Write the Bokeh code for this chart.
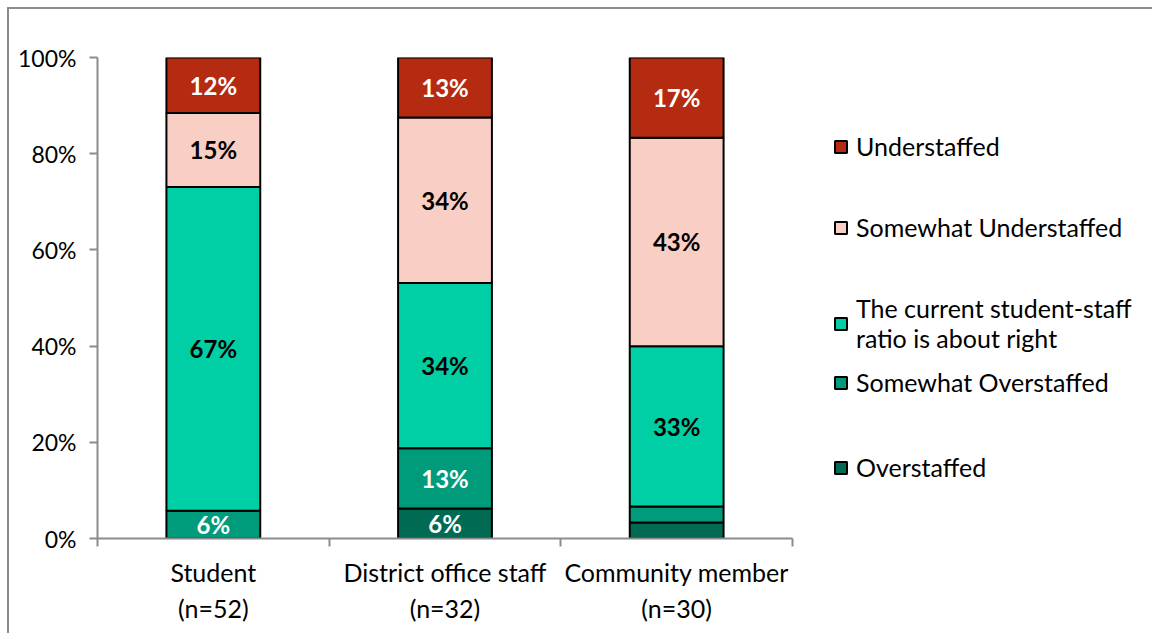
from bokeh.plotting import figure
from bokeh.models import ColumnDataSource, FixedTicker, Legend, LegendItem, Range1d, CustomJSTickFormatter
from bokeh.core.properties import value
from bokeh.embed import file_html
from bokeh.resources import INLINE

# ---- data ----
groups = ["Student\n(n=52)", "District office staff\n(n=32)", "Community member\n(n=30)"]
series = ["Overstaffed", "Somewhat Overstaffed",
          "The current student-staff\nratio is about right",
          "Somewhat Understaffed", "Understaffed"]
overstaffed = [0.0, 6.25, 3.33]
somewhat_over = [5.77, 12.5, 3.33]
about_right = [67.31, 34.38, 33.33]
somewhat_under = [15.38, 34.38, 43.33]
understaffed = [11.54, 12.5, 16.67]
y_ticks = [0, 20, 40, 60, 80, 100]

colors = ["#006B52", "#009B7B", "#00CFA6", "#F9CEC4", "#B52B12"]
label_colors = ["#FFFFFF", "#FFFFFF", "#000000", "#000000", "#FFFFFF"]

FONT = "Lato"
AXIS_COLOR = "#8C8C8C"

values = [overstaffed, somewhat_over, about_right, somewhat_under, understaffed]
xs = [i + 1 for i in range(len(groups))]

# layout: plot area spans 695 px for the three categories; the frame is
# extended to the right so the legend can sit beside the bars
W_CANVAS, LEFT = 1145, 88
CAT_PX = 695
frame_w = W_CANVAS - LEFT
x_end = 0.5 + len(groups) * frame_w / CAT_PX

p = figure(width=W_CANVAS, height=626, output_backend="svg", toolbar_location=None,
           x_range=Range1d(0.5, x_end), y_range=Range1d(0, 100),
           min_border_left=LEFT, min_border_top=48, min_border_bottom=97, min_border_right=0)
p.styles = {"margin-left": "7px", "margin-top": "7px",
            "border-left": "2px solid #8C8C8C", "border-top": "2px solid #8C8C8C"}
p.outline_line_color = None
p.xgrid.visible = False
p.ygrid.visible = False
p.background_fill_color = "white"
p.border_fill_color = "white"

bottom = [0.0] * len(groups)
renderers = []
lx, ly, lt, lc = [], [], [], []
for s, vals, col, tcol in zip(series, values, colors, label_colors):
    top = [b + v for b, v in zip(bottom, vals)]
    src = ColumnDataSource(dict(x=xs, bottom=bottom, top=top))
    r = p.vbar(x="x", bottom="bottom", top="top", width=0.405, source=src,
               fill_color=col, line_color="#000000", line_width=2)
    renderers.append((s, r))
    for x, b, v in zip(xs, bottom, vals):
        if v >= 5:
            lx.append(x)
            ly.append(b + v / 2)
            lt.append(f"{int(v + 0.5)}%")
            lc.append(tcol)
    bottom = top

lsrc = ColumnDataSource(dict(x=lx, y=ly, text=lt, color=lc))
p.text(x="x", y="y", text="text", text_color="color", source=lsrc,
       text_align="center", text_baseline="middle",
       text_font=value(FONT), text_font_style="bold", text_font_size="24px")

# axes
p.yaxis.ticker = FixedTicker(ticks=y_ticks)
p.yaxis.formatter = CustomJSTickFormatter(code="return tick.toFixed(0) + '%';")
p.yaxis.axis_line_color = AXIS_COLOR
p.yaxis.axis_line_width = 2
p.yaxis.major_tick_line_color = AXIS_COLOR
p.yaxis.major_tick_line_width = 2
p.yaxis.major_tick_out = 8
p.yaxis.major_tick_in = 0
p.yaxis.minor_tick_line_color = None
p.yaxis.major_label_text_font = FONT
p.yaxis.major_label_text_font_size = "23px"
p.yaxis.major_label_text_color = "#000000"
p.yaxis.major_label_standoff = 13

p.xaxis.ticker = FixedTicker(ticks=xs, minor_ticks=[0.5, 1.5, 2.5, 3.5])
p.xaxis.bounds = (0.5, 3.5)
p.xaxis.major_label_overrides = {x: g for x, g in zip(xs, groups)}
p.xaxis.axis_line_color = AXIS_COLOR
p.xaxis.axis_line_width = 2
p.xaxis.major_tick_line_color = None
p.xaxis.major_tick_out = 0
p.xaxis.major_tick_in = 0
p.xaxis.minor_tick_line_color = AXIS_COLOR
p.xaxis.minor_tick_line_width = 2
p.xaxis.minor_tick_out = 8
p.xaxis.minor_tick_in = 0
p.xaxis.major_label_text_font = FONT
p.xaxis.major_label_text_font_size = "25px"
p.xaxis.major_label_text_color = "#000000"
p.xaxis.major_label_standoff = 10

items = [LegendItem(label=s, renderers=[r]) for s, r in reversed(renderers)]
legend_style = dict(orientation="vertical", glyph_width=15, glyph_height=15,
                    label_standoff=8, label_text_font=FONT, label_text_font_size="25px",
                    label_text_color="#000000", label_height=28,
                    label_text_line_height=1.28, padding=0, margin=0,
                    border_line_color=None, background_fill_alpha=0)
legend_top = Legend(items=items[:3], location=(736, 185), spacing=51, **legend_style)
legend_bot = Legend(items=items[3:], location=(736, 56), spacing=55, **legend_style)
p.add_layout(legend_top, "center")
p.add_layout(legend_bot, "center")

open("out.html", "w").write(file_html(p, INLINE))
